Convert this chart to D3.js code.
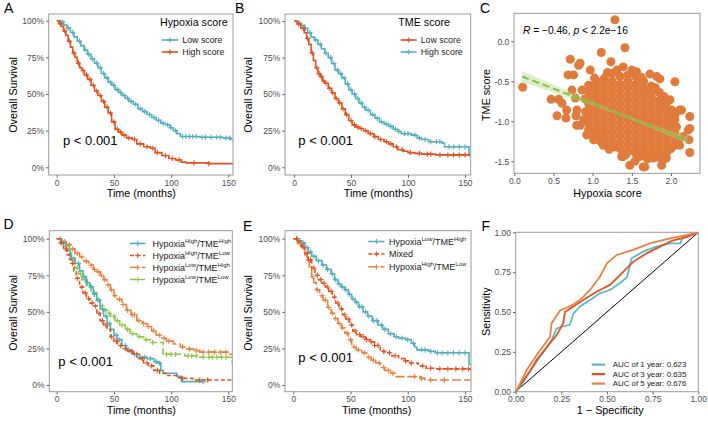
<!DOCTYPE html>
<html><head><meta charset="utf-8">
<script src="https://cdn.jsdelivr.net/npm/d3@7"></script>
<style>
body{margin:0;background:#fff}
svg{display:block}
text{font-family:"Liberation Sans",Arial,Helvetica,sans-serif}
</style>
</head><body>
<svg id="fig" width="708" height="422"></svg>
<script>
// ---------------- DATA ----------------
const timeTicks = [0, 50, 100, 150];
const survTicks = [0, 0.25, 0.5, 0.75, 1];
const corrXTicks = [0, 0.5, 1, 1.5, 2];
const corrYTicks = [0, -0.5, -1, -1.5];
const rocTicks = [0, 0.25, 0.5, 0.75, 1];

// Panel A : Hypoxia score
const hypLow = [[0,1],[3,0.99],[6,0.97],[9,0.95],[12,0.92],[15,0.89],[18,0.86],[21,0.83],[24,0.80],[27,0.77],[30,0.74],[33,0.71],[36,0.68],[39,0.64],[42,0.61],[45,0.58],[48,0.56],[51,0.53],[54,0.51],[57,0.49],[60,0.47],[63,0.45],[67,0.43],[71,0.40],[75,0.38],[79,0.36],[83,0.34],[87,0.32],[91,0.30],[95,0.29],[99,0.27],[102,0.25],[105,0.23],[108,0.21],[125,0.205],[145,0.20],[152,0.19],[155,0.175]];
const hypLowCensor = [5,10,14,20,25,28,31,35,38,41,44,47,50,53,56,59,62,65,69,73,77,81,85,89,93,97,100,104,110,113,116,119,122,127,130,135,140,143,148,151];
const hypHigh = [[0,1],[2,0.98],[4,0.96],[6,0.93],[8,0.90],[10,0.86],[12,0.82],[14,0.78],[16,0.75],[18,0.71],[20,0.68],[22,0.66],[24,0.63],[27,0.60],[30,0.56],[33,0.52],[36,0.49],[39,0.45],[42,0.41],[45,0.37],[48,0.31],[51,0.26],[54,0.24],[57,0.22],[61,0.20],[66,0.19],[70,0.16],[76,0.14],[82,0.13],[86,0.10],[92,0.08],[98,0.06],[104,0.05],[109,0.035],[113,0.03],[133,0.025],[155,0.025]];
const hypHighCensor = [3,7,11,15,19,23,26,29,32,35,38,41,44,47,50,53,56,59,63,68,73,79,84,88,95,101,107,120,133];

// Panel B : TME score
const tmeLow = [[0,1],[3,0.98],[6,0.95],[9,0.92],[11,0.88],[13,0.84],[15,0.78],[17,0.73],[19,0.68],[21,0.64],[23,0.62],[25,0.59],[27,0.575],[30,0.54],[33,0.51],[36,0.47],[39,0.44],[42,0.40],[45,0.36],[48,0.32],[51,0.29],[54,0.275],[57,0.265],[61,0.25],[65,0.23],[70,0.21],[74,0.19],[79,0.175],[83,0.16],[87,0.14],[91,0.12],[96,0.11],[100,0.10],[106,0.095],[112,0.09],[124,0.085],[155,0.085]];
const tmeLowCensor = [4,8,12,16,20,22,24,26,28,31,34,37,40,43,46,50,53,56,59,63,67,71,76,81,85,90,95,102,110,117,120,128,135,140,145,150];
const tmeHigh = [[0,1],[3,0.985],[6,0.97],[9,0.95],[12,0.92],[15,0.89],[18,0.87],[21,0.84],[24,0.81],[27,0.78],[30,0.75],[33,0.71],[36,0.665],[39,0.64],[42,0.61],[45,0.57],[48,0.53],[51,0.50],[54,0.47],[57,0.44],[60,0.41],[63,0.39],[67,0.36],[71,0.335],[75,0.31],[79,0.295],[83,0.28],[87,0.26],[91,0.245],[94,0.23],[103,0.22],[108,0.20],[112,0.19],[118,0.175],[130,0.165],[132,0.14],[153,0.14],[153.5,0.08],[155,0.08]];
const tmeHighCensor = [5,10,14,19,23,28,32,35,38,41,44,47,50,53,56,59,62,65,69,73,77,81,85,89,92,97,100,106,110,115,120,125,128,136,140,145,150];

// Panel C : correlation scatter (Hypoxia score, TME score)
const scatterCore = [
  [0.95,[-0.62,-0.70,-0.78,-0.86,-0.94,-1.02,-1.10]],
  [1.05,[-0.50,-0.58,-0.66,-0.74,-0.82,-0.90,-0.98,-1.06,-1.14,-1.20]],
  [1.15,[-0.46,-0.54,-0.62,-0.70,-0.78,-0.86,-0.94,-1.02,-1.10,-1.18,-1.26]],
  [1.25,[-0.40,-0.50,-0.58,-0.66,-0.74,-0.82,-0.90,-0.98,-1.06,-1.14,-1.22,-1.30]],
  [1.35,[-0.44,-0.54,-0.62,-0.70,-0.78,-0.86,-0.94,-1.02,-1.10,-1.18,-1.26,-1.34]],
  [1.45,[-0.42,-0.50,-0.58,-0.66,-0.74,-0.82,-0.90,-0.98,-1.06,-1.14,-1.22,-1.30,-1.38]],
  [1.55,[-0.44,-0.54,-0.62,-0.70,-0.78,-0.86,-0.94,-1.02,-1.10,-1.18,-1.26,-1.34,-1.40]],
  [1.65,[-0.50,-0.58,-0.66,-0.74,-0.82,-0.90,-0.98,-1.06,-1.14,-1.22,-1.30,-1.38,-1.43]],
  [1.75,[-0.56,-0.62,-0.70,-0.78,-0.86,-0.94,-1.02,-1.10,-1.18,-1.26,-1.34,-1.42]],
  [1.85,[-0.64,-0.74,-0.82,-0.90,-0.98,-1.06,-1.14,-1.22,-1.30,-1.38,-1.42]],
  [1.95,[-0.76,-0.86,-0.94,-1.02,-1.10,-1.18,-1.26,-1.34,-1.38]],
  [2.05,[-0.92,-0.98,-1.06,-1.14,-1.22,-1.30]]
];
const scatterOutliers = [[0.107,-0.575],[0.714,-0.225],[0.685,-0.42],[0.757,-0.42],[0.82,-0.30],[0.47,-0.725],[0.566,-0.725],[0.608,-0.775],[0.545,-0.93],[0.66,-0.96],[0.787,-0.93],[0.842,-1.05],[0.94,-1.16],[1.128,-1.28],[1.11,-0.14],[0.864,-0.61],[0.97,-0.36],[0.95,-0.55],[1.025,-0.46],[0.736,-0.61],[0.80,-0.86],[0.885,-0.98],[0.78,-0.71],[1.013,-1.23],[1.284,0.27],[1.412,-0.08],[0.84,-0.275],[1.233,-0.255],[1.39,-0.32],[1.858,-0.47],[2.05,-0.505],[2.135,-0.86],[2.24,-0.94],[2.24,-1.09],[2.23,-1.23],[2.24,-1.39],[2.155,-1.19],[1.90,-1.48],[1.88,-1.55],[1.667,-1.57],[1.773,-1.46],[1.39,-1.44],[1.475,-1.55],[1.60,-1.44],[1.284,-1.32],[1.135,-1.30],[0.923,-1.17],[0.796,-1.05],[0.668,-0.86],[1.986,-0.98],[1.986,-0.73],[1.88,-0.775],[1.944,-0.86],[2.07,-1.07],[2.03,-1.15],[1.816,-0.44],[1.73,-0.59],[1.56,-0.38],[1.73,-0.41],[2.11,-0.86],[2.22,-1.11],[2.11,-1.30],[1.94,-1.46],[1.645,-1.57],[1.54,-1.50],[1.37,-1.44],[1.19,-0.39],[1.31,-0.36],[1.50,-0.36],[1.62,-0.45],[1.80,-0.58],[1.91,-0.69],[2.01,-0.86],[0.99,-0.59],[0.90,-0.72],[0.91,-0.88],[0.99,-1.15],[1.09,-1.24],[1.21,-1.35],[1.42,-1.42],[1.70,-1.47],[1.83,-1.45],[2.00,-1.34],[2.09,-1.24]];
const fitX = [0.1, 2.22];
const fitY = [-0.44, -1.24];
const bandX = [0.1, 0.4, 0.7, 1.0, 1.3, 1.6, 1.9, 2.22];
const bandLow = [-0.51, -0.608, -0.706, -0.807, -0.913, -1.028, -1.152, -1.288];
const bandHigh = [-0.37, -0.498, -0.626, -0.753, -0.873, -0.984, -1.086, -1.192];

// Panel D : four groups
const dHH = [[0,1],[4,0.97],[8,0.92],[12,0.87],[16,0.83],[20,0.78],[23,0.74],[26,0.70],[29,0.67],[32,0.62],[35,0.58],[38,0.52],[41,0.47],[44,0.42],[47,0.38],[50,0.34],[53,0.31],[57,0.27],[61,0.24],[66,0.21],[70,0.19],[79,0.18],[85,0.16],[88,0.15],[91,0.10],[93,0.08],[105,0.06],[109,0.023],[128,0.023]];
const dHHCensor = [6,13,19,24,27,30,33,36,40,43,46,52,55,60,63,68,73,77,82,87,90,128];
const dHL = [[0,1],[3,0.97],[6,0.93],[9,0.89],[11,0.86],[13,0.83],[15,0.78],[17,0.73],[20,0.67],[23,0.63],[26,0.59],[29,0.56],[32,0.54],[35,0.49],[38,0.44],[41,0.41],[44,0.38],[47,0.33],[50,0.30],[53,0.27],[57,0.25],[62,0.23],[67,0.21],[72,0.18],[76,0.15],[80,0.13],[85,0.10],[90,0.08],[95,0.065],[105,0.05],[110,0.045],[119,0.034],[155,0.034]];
const dHLCensor = [4,8,14,18,22,25,28,31,34,37,40,43,48,52,56,60,65,70,75,79,83,88,110,125,132];
const dLH = [[0,1],[4,0.98],[8,0.96],[12,0.93],[16,0.90],[20,0.875],[24,0.845],[28,0.82],[32,0.79],[35,0.775],[38,0.75],[41,0.72],[44,0.685],[47,0.65],[50,0.61],[53,0.585],[57,0.55],[61,0.51],[65,0.48],[70,0.44],[75,0.42],[79,0.40],[83,0.37],[87,0.34],[91,0.32],[96,0.30],[102,0.28],[108,0.26],[114,0.245],[120,0.235],[125,0.225],[151,0.21],[155,0.21]];
const dLHCensor = [3,7,11,14,18,22,26,30,33,36,39,42,45,48,51,55,58,62,66,68,72,76,80,85,90,94,98,110,116,122,128,133,138,143,148];
const dLL = [[0,1],[4,0.98],[8,0.95],[11,0.90],[13,0.855],[16,0.80],[19,0.76],[22,0.72],[26,0.68],[30,0.63],[35,0.58],[38,0.54],[41,0.51],[44,0.49],[47,0.47],[51,0.44],[55,0.41],[60,0.38],[64,0.35],[70,0.33],[76,0.31],[82,0.29],[93,0.21],[112,0.20],[125,0.19],[153,0.18],[153.5,0.15],[155,0.15]];
const dLLCensor = [5,9,14,18,21,25,29,33,37,40,43,46,50,53,57,62,66,72,78,84,96,100,104,115,118,122,128,133,136,140,144,148];

// Panel E : three groups
const eLH = [[0,1],[4,0.985],[7,0.97],[10,0.94],[13,0.91],[16,0.88],[20,0.85],[25,0.82],[29,0.79],[33,0.76],[36,0.72],[39,0.69],[42,0.67],[45,0.65],[48,0.62],[51,0.59],[54,0.565],[57,0.535],[61,0.50],[65,0.47],[69,0.44],[74,0.41],[78,0.38],[83,0.35],[88,0.33],[92,0.32],[98,0.31],[103,0.285],[106,0.26],[108,0.24],[118,0.23],[124,0.22],[153,0.22],[153.5,0.14],[155,0.14]];
const eLHCensor = [3,6,9,12,15,18,22,26,30,34,37,40,43,46,49,52,55,58,60,63,66,70,73,77,80,85,90,95,100,105,112,115,120,126,130,135,140,145,150];
const eMixed = [[0,1],[4,0.98],[7,0.95],[10,0.90],[13,0.855],[16,0.80],[19,0.75],[22,0.72],[25,0.695],[28,0.67],[31,0.64],[34,0.60],[37,0.56],[40,0.52],[43,0.48],[46,0.45],[49,0.41],[52,0.37],[55,0.345],[59,0.33],[63,0.31],[67,0.295],[71,0.27],[76,0.23],[80,0.22],[86,0.20],[92,0.18],[97,0.165],[102,0.15],[109,0.13],[116,0.115],[124,0.11],[155,0.10]];
const eMixedCensor = [3,8,12,15,18,21,24,27,30,33,36,39,42,45,48,51,54,58,61,64,68,71,74,79,84,89,98,103,113,120,128,135,142,148,153];
const eHL = [[0,1],[4,0.97],[7,0.94],[10,0.89],[12,0.855],[14,0.80],[16,0.74],[18,0.70],[20,0.65],[23,0.61],[26,0.58],[30,0.53],[33,0.49],[36,0.455],[39,0.42],[42,0.39],[45,0.355],[48,0.31],[51,0.26],[55,0.24],[60,0.22],[64,0.19],[68,0.17],[72,0.15],[76,0.12],[80,0.10],[85,0.08],[89,0.057],[111,0.045],[115,0.034],[155,0.034]];
const eHLCensor = [5,9,13,17,21,25,28,31,34,37,40,43,47,50,53,57,62,66,70,75,79,83,87,106,112,120,132];

// Panel F : time-dependent ROC (1 - specificity, sensitivity)
const roc1 = [[0,0],[0.024,0.03],[0.06,0.094],[0.097,0.157],[0.133,0.22],[0.16,0.26],[0.197,0.324],[0.224,0.397],[0.26,0.41],[0.297,0.42],[0.316,0.49],[0.352,0.535],[0.407,0.575],[0.46,0.617],[0.516,0.638],[0.57,0.68],[0.61,0.72],[0.635,0.837],[0.70,0.88],[0.77,0.91],[0.845,0.93],[0.90,0.93],[0.918,0.97],[1,1]];
const roc3 = [[0,0],[0.024,0.04],[0.07,0.115],[0.115,0.2],[0.17,0.28],[0.224,0.355],[0.26,0.43],[0.27,0.50],[0.316,0.535],[0.37,0.575],[0.443,0.627],[0.516,0.67],[0.57,0.73],[0.644,0.816],[0.717,0.868],[0.79,0.91],[0.863,0.95],[0.936,0.97],[1,1]];
const roc5 = [[0,0],[0.024,0.05],[0.06,0.136],[0.115,0.23],[0.188,0.345],[0.197,0.43],[0.243,0.51],[0.297,0.535],[0.352,0.575],[0.407,0.638],[0.46,0.72],[0.5,0.805],[0.553,0.858],[0.644,0.89],[0.735,0.93],[0.845,0.962],[0.936,0.983],[1,1]];
const rocLabels = ["AUC of 1 year: 0.623", "AUC of 3 year: 0.635", "AUC of 5 year: 0.676"];

// ---------------- DRAWING ----------------
const COL = {teal:"#52AFC1", red:"#E4511E", orange:"#E8813D", green:"#8DC540", dot:"#E07B3C"};
const svg = d3.select("#fig");
const defs = svg.append("defs");
const FONT = '"Liberation Sans",Arial,Helvetica,sans-serif';

function makePanel(id, r){
  defs.append("clipPath").attr("id","clip-"+id).append("rect")
    .attr("x",r.l).attr("y",r.t).attr("width",r.r-r.l).attr("height",r.b-r.t);
  const g = svg.append("g");
  const plot = g.append("g").attr("clip-path",`url(#clip-${id})`);
  return {g, plot};
}
function drawBorder(g, r){
  g.append("rect").attr("x",r.l).attr("y",r.t).attr("width",r.r-r.l).attr("height",r.b-r.t)
    .attr("fill","none").attr("stroke","#9a9a9a").attr("stroke-width",1);
}
function styleAxis(sel){
  sel.select(".domain").remove();
  sel.selectAll(".tick line").attr("stroke","#666");
  sel.selectAll(".tick text").attr("fill","#4d4d4d").attr("font-size",8.5).attr("font-family",FONT);
}
function letter(txt,x,y){
  svg.append("text").attr("x",x).attr("y",y).attr("font-size",14).text(txt);
}
function xTitle(txt,x,y){
  svg.append("text").attr("x",x).attr("y",y).attr("text-anchor","middle").attr("font-size",10.8).text(txt);
}
function yTitle(txt,x,y){
  svg.append("text").attr("transform",`translate(${x},${y}) rotate(-90)`).attr("text-anchor","middle").attr("font-size",10.8).text(txt);
}
function survAt(data,t){
  let s = data[0][1];
  for (const d of data){ if (d[0] <= t) s = d[1]; else break; }
  return s;
}
function plusPath(cx,cy,h){ return `M${cx-h},${cy}h${2*h}M${cx},${cy-h}v${2*h}`; }

// rich label with superscripts written as ^{...}
function richText(sel, label, mainSize, supSize){
  const parts = label.split(/(\^\{[^}]*\})/).filter(s=>s.length);
  let raised = false;
  parts.forEach(p=>{
    if (p.startsWith("^{")){
      sel.append("tspan").attr("font-size",supSize).attr("dy", raised?0:-3.6).text(p.slice(2,-1));
      raised = true;
    } else {
      sel.append("tspan").attr("font-size",mainSize).attr("dy", raised?3.6:0).text(p);
      raised = false;
    }
  });
}

function kmPanel(cfg){
  const r = cfg.rect;
  const {g, plot} = makePanel(cfg.id, r);
  const x = d3.scaleLinear().domain([0,150]).range(cfg.xr);
  const y = d3.scaleLinear().domain([0,1]).range(cfg.yr);
  const line = d3.line().x(d=>x(d[0])).y(d=>y(d[1])).curve(d3.curveStepAfter);
  cfg.series.forEach(s=>{
    plot.append("path").datum(s.data).attr("d",line).attr("fill","none")
      .attr("stroke",s.color).attr("stroke-width",1.6).attr("stroke-dasharray",s.dash||null);
    const marks = s.censor.map(t=>plusPath(x(t), y(survAt(s.data,t)), 2.6)).join("");
    plot.append("path").attr("d",marks).attr("fill","none").attr("stroke",s.color).attr("stroke-width",1.1);
  });
  drawBorder(g,r);
  const ax = g.append("g").attr("transform",`translate(0,${r.b})`)
    .call(d3.axisBottom(x).tickValues(timeTicks).tickSize(2.7).tickPadding(2));
  styleAxis(ax);
  const ay = g.append("g").attr("transform",`translate(${r.l},0)`)
    .call(d3.axisLeft(y).tickValues(survTicks).tickSize(2.7).tickPadding(2).tickFormat(d=>Math.round(d*100)+"%"));
  styleAxis(ay);
  g.append("text").attr("x",cfg.p[0]).attr("y",cfg.p[1]).attr("font-size",13).text("p < 0.001");
  const L = cfg.legend;
  if (L.title) g.append("text").attr("x",L.titleX).attr("y",L.titleY).attr("font-size",10.7).text(L.title);
  L.items.forEach((it,i)=>{
    const cy = L.rows[i];
    g.append("line").attr("x1",L.kx[0]).attr("x2",L.kx[1]).attr("y1",cy).attr("y2",cy)
      .attr("stroke",it.color).attr("stroke-width",1.6).attr("stroke-dasharray",it.dash||null);
    g.append("path").attr("d",plusPath((L.kx[0]+L.kx[1])/2,cy,2.6)).attr("stroke",it.color).attr("stroke-width",1.1);
    const t = g.append("text").attr("x",L.tx).attr("y",cy+3.2).attr("fill","#1a1a1a");
    richText(t, it.label, L.size, 6);
  });
}

// ---- A ----
kmPanel({
  id:"A", rect:{l:48.7,r:233,t:14,b:175}, xr:[56.7,228.3], yr:[167.3,20.7], p:[63,144.5],
  series:[
    {data:hypLow, censor:hypLowCensor, color:COL.teal},
    {data:hypHigh, censor:hypHighCensor, color:COL.red}
  ],
  legend:{title:"Hypoxia score", titleX:160, titleY:25.5, kx:[161.7,178.3], tx:182.3, rows:[40,52], size:8.8,
    items:[{label:"Low score",color:COL.teal},{label:"High score",color:COL.red}]}
});
letter("A",4,12.5); yTitle("Overall Survival",16.5,95); xTitle("Time (months)",141.3,197);

// ---- B ----
kmPanel({
  id:"B", rect:{l:285,r:470.7,t:14,b:175}, xr:[294,465], yr:[167.3,21], p:[298.3,144.5],
  series:[
    {data:tmeHigh, censor:tmeHighCensor, color:COL.teal},
    {data:tmeLow, censor:tmeLowCensor, color:COL.red}
  ],
  legend:{title:"TME score", titleX:398.3, titleY:25.5, kx:[400.7,416.7], tx:420.7, rows:[40,52], size:8.8,
    items:[{label:"Low score",color:COL.red},{label:"High score",color:COL.teal}]}
});
letter("B",235,12.5); yTitle("Overall Survival",252,95); xTitle("Time (months)",378.3,197);

// ---- D ----
kmPanel({
  id:"D", rect:{l:49.3,r:232.3,t:230.7,b:391.7}, xr:[56.7,228.3], yr:[385,238.7], p:[58.3,365.5],
  series:[
    {data:dLL, censor:dLLCensor, color:COL.green, dash:"6,3"},
    {data:dLH, censor:dLHCensor, color:COL.orange, dash:"9,3"},
    {data:dHH, censor:dHHCensor, color:COL.teal},
    {data:dHL, censor:dHLCensor, color:COL.red, dash:"4,2.5"}
  ],
  legend:{kx:[130,145.5], tx:152.5, rows:[243.5,255.5,267.5,279.5], size:9,
    items:[
      {label:"Hypoxia^{High}/TME^{High}",color:COL.teal},
      {label:"Hypoxia^{High}/TME^{Low}",color:COL.red,dash:"4,2.5"},
      {label:"Hypoxia^{Low}/TME^{High}",color:COL.orange,dash:"9,3"},
      {label:"Hypoxia^{Low}/TME^{Low}",color:COL.green,dash:"6,3"}
    ]}
});
letter("D",3.5,229); yTitle("Overall Survival",16.5,313); xTitle("Time (months)",141.3,414);

// ---- E ----
kmPanel({
  id:"E", rect:{l:285,r:471,t:230.7,b:391.7}, xr:[293.3,465], yr:[385,238.7], p:[298.3,362],
  series:[
    {data:eLH, censor:eLHCensor, color:COL.teal},
    {data:eHL, censor:eHLCensor, color:COL.orange, dash:"9,3"},
    {data:eMixed, censor:eMixedCensor, color:COL.red, dash:"4,2.5"}
  ],
  legend:{kx:[368.3,384.5], tx:389, rows:[241.5,254,266.8], size:9,
    items:[
      {label:"Hypoxia^{Low}/TME^{High}",color:COL.teal},
      {label:"Mixed",color:COL.red,dash:"4,2.5"},
      {label:"Hypoxia^{High}/TME^{Low}",color:COL.orange,dash:"9,3"}
    ]}
});
letter("E",243,230.5); yTitle("Overall Survival",251.5,313); xTitle("Time (months)",376.7,414);

// ---- C ----
(function(){
  const r = {l:514,r:700,t:13.3,b:173.3};
  const {g, plot} = makePanel("C", r);
  const x = d3.scaleLinear().domain([0,2]).range([514.3,671]);
  const y = d3.scaleLinear().domain([0,-1.5]).range([41.3,161.3]);
  const pts = scatterCore.flatMap(c=>c[1].map(v=>[c[0],v])).concat(scatterOutliers);
  plot.selectAll("circle.pt").data(pts).enter().append("circle").attr("class","pt")
    .attr("cx",d=>x(d[0])).attr("cy",d=>y(d[1])).attr("r",4.5).attr("fill",COL.dot);
  const band = d3.area().x((d,i)=>x(bandX[i])).y0((d,i)=>y(bandLow[i])).y1((d,i)=>y(bandHigh[i]));
  plot.append("path").datum(bandX).attr("d",band).attr("fill","#A8D67A").attr("opacity",0.4);
  plot.append("line").attr("x1",x(fitX[0])).attr("y1",y(fitY[0])).attr("x2",x(fitX[1])).attr("y2",y(fitY[1]))
    .attr("stroke","#7DC242").attr("stroke-width",2).attr("stroke-dasharray","7,4");
  drawBorder(g,r);
  const ax = g.append("g").attr("transform",`translate(0,${r.b})`)
    .call(d3.axisBottom(x).tickValues(corrXTicks).tickSize(2.7).tickPadding(2).tickFormat(d=>d.toFixed(1)));
  styleAxis(ax);
  const ay = g.append("g").attr("transform",`translate(${r.l},0)`)
    .call(d3.axisLeft(y).tickValues(corrYTicks).tickSize(2.7).tickPadding(2).tickFormat(d=>d.toFixed(1)));
  styleAxis(ay);
  const t = g.append("text").attr("x",523).attr("y",33.5).attr("font-size",10.2);
  t.append("tspan").attr("font-style","italic").text("R");
  t.append("tspan").text(" = \u22120.46, ");
  t.append("tspan").attr("font-style","italic").text("p");
  t.append("tspan").text(" < 2.2e\u221216");
})();
letter("C",480,12.5); yTitle("TME score",490,95); xTitle("Hypoxia score",607.5,197);

// ---- F ----
(function(){
  const r = {l:515.7,r:698.3,t:232.3,b:391.7};
  const {g, plot} = makePanel("F", r);
  const x = d3.scaleLinear().domain([0,1]).range([r.l,r.r]);
  const y = d3.scaleLinear().domain([0,1]).range([r.b,r.t]);
  plot.append("line").attr("x1",x(0)).attr("y1",y(0)).attr("x2",x(1)).attr("y2",y(1))
    .attr("stroke","#000").attr("stroke-width",1);
  const line = d3.line().x(d=>x(d[0])).y(d=>y(d[1]));
  const rocs = [[roc1,"#5BB8CA"],[roc3,COL.red],[roc5,COL.orange]];
  rocs.forEach(([d,c])=>{
    plot.append("path").datum(d).attr("d",line).attr("fill","none").attr("stroke",c).attr("stroke-width",1.8);
  });
  drawBorder(g,r);
  const ax = g.append("g").attr("transform",`translate(0,${r.b})`)
    .call(d3.axisBottom(x).tickValues(rocTicks).tickSize(2.7).tickPadding(2).tickFormat(d3.format(".2f")));
  styleAxis(ax);
  const ay = g.append("g").attr("transform",`translate(${r.l},0)`)
    .call(d3.axisLeft(y).tickValues(rocTicks).tickSize(2.7).tickPadding(2).tickFormat(d3.format(".2f")));
  styleAxis(ay);
  const rows = [364.6, 374.1, 383.6];
  rocLabels.forEach((lab,i)=>{
    g.append("line").attr("x1",591.7).attr("x2",605).attr("y1",rows[i]).attr("y2",rows[i])
      .attr("stroke",rocs[i][1]).attr("stroke-width",2.2);
    g.append("text").attr("x",612.7).attr("y",rows[i]+2.8).attr("font-size",7.9).attr("fill","#1a1a1a").text(lab);
  });
})();
letter("F",481.5,230.5); yTitle("Sensitivity",490,311.7); xTitle("1 \u2212 Specificity",610.3,414);
</script>
</body></html>
